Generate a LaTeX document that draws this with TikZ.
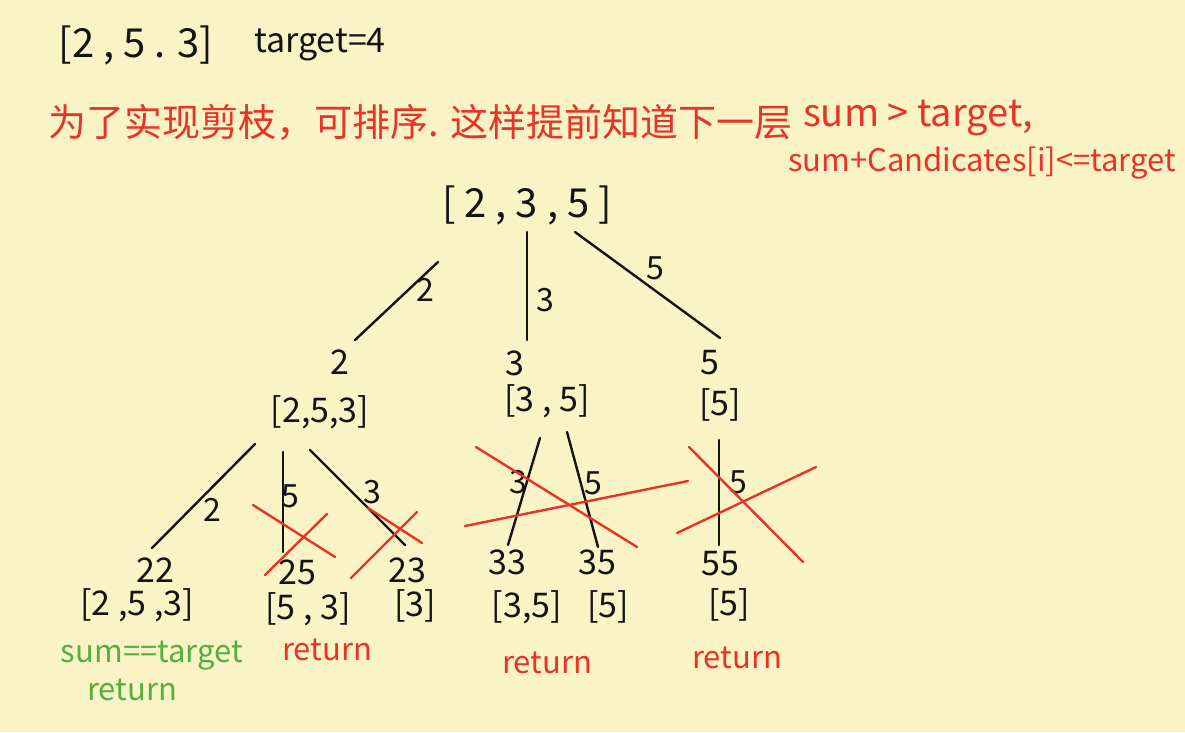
\documentclass[tikz,border=0pt]{standalone}
\usepackage{fontspec}
\setmainfont{Noto Sans CJK SC}
\definecolor{bg}{RGB}{250,243,197}
\definecolor{pen}{RGB}{20,20,20}
\definecolor{redpen}{RGB}{232,52,40}
\definecolor{greenpen}{RGB}{84,176,60}
\begin{document}
\begin{tikzpicture}[x=1pt,y=-1pt,
  txt/.style={inner sep=0pt, text=pen, font=\fontsize{34}{34}\selectfont},
  big/.style={inner sep=0pt, text=pen, font=\fontsize{40}{40}\selectfont},
  redtxt/.style={inner sep=0pt, text=redpen, font=\fontsize{38}{38}\selectfont},
  redsmall/.style={inner sep=0pt, text=redpen, font=\fontsize{31}{31}\selectfont},
  greentxt/.style={inner sep=0pt, text=greenpen, font=\fontsize{31}{31}\selectfont},
  lab/.style={inner sep=0pt, text=pen, font=\fontsize{32}{32}\selectfont},
  edge/.style={line width=2.4pt, draw=pen, line cap=round},
  cut/.style={line width=2.4pt, draw=redpen, line cap=round}]
\fill[bg] (0,0) rectangle (1185,732);
\useasboundingbox (0,0) rectangle (1185,732);

% header
\node[big] (arr) at (136,45) {[2 , 5 . 3]};
\node[txt] (tgt) at (320,45) {target=4};
\node[redtxt, anchor=west] (note1) at (48,122) {为了实现剪枝，可排序. 这样提前知道下一层};
\node[redtxt, anchor=west] (note2) at (803,118) {sum > target,};
\node[redsmall] (note3) at (982,163) {sum+Candicates[i]<=target};

% tree nodes
\node[big] (root) at (527,205) {[ 2 , 3 , 5 ]};
\node[txt] (n2v) at (340,362) {2};
\node[txt] (n2) at (320,412) {[2,5,3]};
\node[txt] (n3v) at (515,363) {3};
\node[txt] (n3) at (547,401) {[3 , 5]};
\node[txt] (n5v) at (710,363) {5};
\node[txt] (n5) at (720,405) {[5]};

\node[txt] (n22v) at (155,570) {22};
\node[txt] (n22) at (137,605) {[2 ,5 ,3]};
\node[txt] (n25v) at (297,572) {25};
\node[txt] (n25) at (308,609) {[5 , 3]};
\node[txt] (n23v) at (407,570) {23};
\node[txt] (n23) at (415,606) {[3]};
\node[txt] (n33v) at (507,562) {33};
\node[txt] (n33) at (527,607) {[3,5]};
\node[txt] (n35v) at (597,562) {35};
\node[txt] (n35) at (608,607) {[5]};
\node[txt] (n55v) at (720,564) {55};
\node[txt] (n55) at (729,605) {[5]};

% annotations
\node[greentxt] (ok) at (152,656) {sum==target};
\node[greentxt] (okret) at (132,690) {return};
\node[redsmall] (ret1) at (327,650) {return};
\node[redsmall] (ret2) at (547,663) {return};
\node[redsmall] (ret3) at (737,658) {return};

% edge end points
\coordinate (r2a) at (438,262); \coordinate (r2b) at (355,340);
\coordinate (r3a) at (527,232); \coordinate (r3b) at (527,340);
\coordinate (r5a) at (575,232); \coordinate (r5b) at (720,338);
\coordinate (a2a) at (255,444); \coordinate (a2b) at (152,548);
\coordinate (a5a) at (283,452); \coordinate (a5b) at (283,552);
\coordinate (a3a) at (310,450); \coordinate (a3b) at (405,545);
\coordinate (b3a) at (540,438); \coordinate (b3b) at (508,545);
\coordinate (b5a) at (567,432); \coordinate (b5b) at (598,547);
\coordinate (c5a) at (719,440); \coordinate (c5b) at (719,545);

\draw[edge] (r2a) -- (r2b);
\draw[edge] (r3a) -- (r3b);
\draw[edge] (r5a) -- (r5b);
\draw[edge] (a2a) -- (a2b);
\draw[edge] (a5a) -- (a5b);
\draw[edge] (a3a) -- (a3b);
\draw[edge] (b3a) -- (b3b);
\draw[edge] (b5a) -- (b5b);
\draw[edge] (c5a) -- (c5b);

% edge labels
\node[lab] (l1) at (425,290) {2};
\node[lab] (l2) at (545,300) {3};
\node[lab] (l3) at (655,268) {5};
\node[lab] (l4) at (212,510) {2};
\node[lab] (l5) at (290,496) {5};
\node[lab] (l6) at (372,492) {3};
\node[lab] (l7) at (518,482) {3};
\node[lab] (l8) at (593,483) {5};
\node[lab] (l9) at (738,482) {5};

% red cuts
\draw[cut] (253,505) -- (335,557);
\draw[cut] (327,514) -- (265,575);
\draw[cut] (368,508) -- (422,543);
\draw[cut] (417,512) -- (351,578);
\draw[cut] (476,447) -- (637,547);
\draw[cut] (465,526) -- (688,481);
\draw[cut] (689,447) -- (803,562);
\draw[cut] (677,533) -- (816,467);
\end{tikzpicture}
\end{document}
